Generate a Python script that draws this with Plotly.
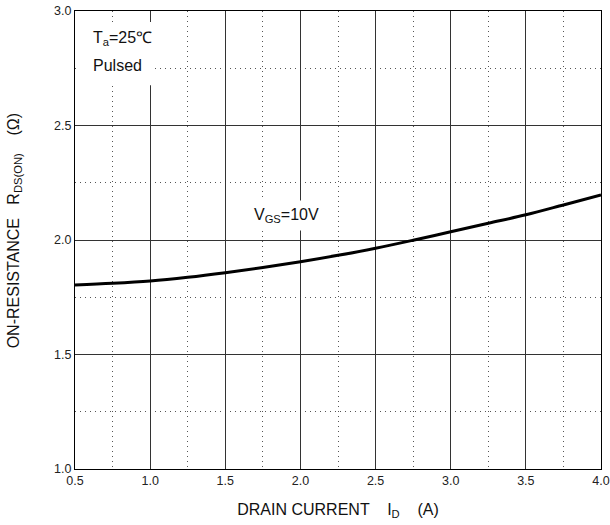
import plotly.graph_objects as go

drain_current = [0.5, 0.75, 1.0, 1.25, 1.5, 1.75, 2.0, 2.25, 2.5, 2.75, 3.0, 3.25, 3.5, 3.75, 4.0]
on_resistance = [1.804, 1.811, 1.821, 1.837, 1.857, 1.880, 1.905, 1.933, 1.964, 1.999, 2.036, 2.073, 2.110, 2.153, 2.197]

x_ticks = [0.5, 1.0, 1.5, 2.0, 2.5, 3.0, 3.5, 4.0]
y_ticks = [1.0, 1.5, 2.0, 2.5, 3.0]

FONT = "Liberation Sans, Arial, sans-serif"
TXT = dict(family=FONT, size=16, color="#111111")

fig = go.Figure()
fig.add_trace(go.Scatter(
    x=drain_current, y=on_resistance, mode="lines",
    line=dict(color="black", width=3, shape="spline"),
    showlegend=False, hoverinfo="skip"))

axis_common = dict(
    showline=True, linecolor="black", linewidth=1, mirror=True,
    showgrid=True, gridcolor="#333333", gridwidth=1,
    ticks="", zeroline=False, automargin=False,
    tickfont=dict(family=FONT, size=12.5, color="#222222"),
    tickformat=".1f",
)

fig.update_xaxes(
    range=[0.5, 4.0], tickvals=x_ticks,
    minor=dict(dtick=0.25, tick0=0.5, showgrid=True, gridcolor="#555555",
               griddash="1px,4px", gridwidth=1),
    title=dict(text="DRAIN CURRENT    I<sub>D</sub>    (A)", font=TXT, standoff=16),
    **axis_common)
fig.update_yaxes(
    range=[1.0, 3.0], tickvals=y_ticks,
    minor=dict(dtick=0.25, tick0=1.0, showgrid=True, gridcolor="#555555",
               griddash="1px,4px", gridwidth=1),
    **axis_common)

fig.add_annotation(
    xref="paper", yref="paper", x=-0.115, y=0.52, xanchor="center", yanchor="middle",
    text="ON-RESISTANCE   R<sub>DS(ON)</sub>    (Ω)", textangle=-90, showarrow=False,
    font=TXT)

# white box behind the condition note
fig.add_shape(type="rect", xref="paper", yref="paper",
              x0=0.0095, x1=0.15, y0=0.838, y1=0.976,
              fillcolor="white", line=dict(width=0), layer="above")
fig.add_annotation(
    xref="paper", yref="paper", x=0.031, y=0.939, xanchor="left", yanchor="middle",
    text="T<sub>a</sub>=25℃", showarrow=False, font=TXT)
fig.add_annotation(
    xref="paper", yref="paper", x=0.031, y=0.881, xanchor="left", yanchor="middle",
    text="Pulsed", showarrow=False, font=TXT)

fig.add_annotation(
    x=1.91, y=2.105, xanchor="center", yanchor="middle",
    text="V<sub>GS</sub>=10V", showarrow=False, bgcolor="white", borderpad=5,
    font=TXT)

fig.update_layout(
    width=610, height=525,
    margin=dict(l=75, r=9, t=11, b=56, autoexpand=False),
    plot_bgcolor="white", paper_bgcolor="white",
)

fig.write_html("out.html", config={"displayModeBar": False},
               post_script="document.body.style.margin='0';document.body.style.overflow='hidden';")
